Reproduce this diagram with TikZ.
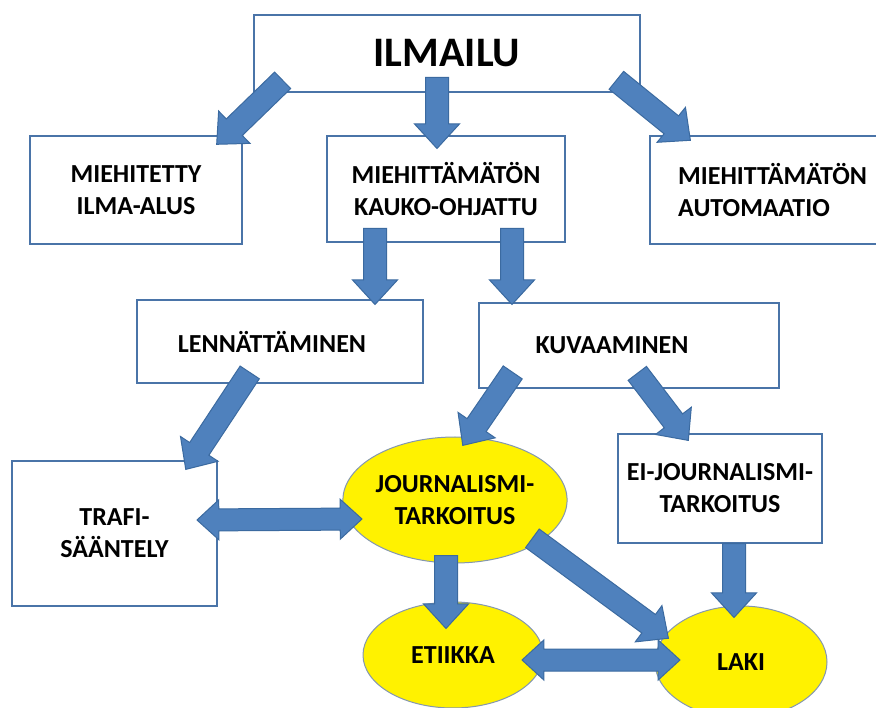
\documentclass[tikz,border=0pt]{standalone}
\usepackage{fontspec}
\setmainfont{Carlito}
\usetikzlibrary{shapes.arrows,shapes.geometric,calc}
\definecolor{arrowfill}{HTML}{4F81BD}
\definecolor{arrowline}{HTML}{3B6AA0}
\definecolor{boxline}{HTML}{4A74A8}
\definecolor{ellline}{HTML}{8497B0}
\newcommand{\lbl}{\bfseries\fontsize{26}{32}\selectfont}
\newcommand{\bigarrow}[3]{%
  \path let \p1=(#1), \p2=(#2), \n1={veclen(\x2-\x1,\y2-\y1)}, \n2={atan2(\y2-\y1,\x2-\x1)}
    in node[barrow, minimum height=\n1, rotate=\n2] (#3) at (\p1) {};}
\newcommand{\twoarrow}[3]{%
  \path let \p1=(#1), \p2=(#2), \n1={veclen(\x2-\x1,\y2-\y1)}, \n2={atan2(\y2-\y1,\x2-\x1)}
    in node[darrow, minimum height=\n1, rotate=\n2] (#3) at ($(\p1)!0.5!(\p2)$) {};}
\tikzset{
  box/.style={draw=boxline, line width=1.3pt, fill=white, inner sep=0pt, align=center, font=\lbl},
  oval/.style={ellipse, draw=ellline, line width=1pt, fill=yellow, inner sep=0pt, align=center, font=\lbl},
  barrow/.style={single arrow, fill=arrowfill, draw=arrowline, line width=1pt,
    inner xsep=0pt, inner ysep=11pt, single arrow head extend=11pt,
    single arrow tip angle=85, anchor=tail},
  darrow/.style={double arrow, fill=arrowfill, draw=arrowline, line width=1pt,
    inner xsep=0pt, inner ysep=10.5pt, double arrow head extend=9pt,
    double arrow tip angle=85, anchor=center}
}
\begin{document}
\begin{tikzpicture}[x=1pt,y=-1pt]
\useasboundingbox[fill=white] (0,0) rectangle (876,708);
% boxes
\node[box, minimum width=386pt, minimum height=77pt] (ilm) at (447,53.5)
  {\fontsize{42}{48}\selectfont ILMAILU};
\node[box, minimum width=212pt, minimum height=108pt] (mie) at (136,190)
  {MIEHITETTY\\ILMA-ALUS};
\node[box, minimum width=238pt, minimum height=106pt] (kau) at (446,189)
  {MIEHITTÄMÄTÖN\\KAUKO-OHJATTU};
\node[box, minimum width=232pt, minimum height=108pt] (aut) at (766,190) {};
\node[font=\lbl, align=left, anchor=west, inner sep=0pt] (auttext) at (678,190)
  {MIEHITTÄMÄTÖN\\AUTOMAATIO};
\node[box, minimum width=286pt, minimum height=83pt] (len) at (280,341.5)
  {LENNÄTTÄMINEN\hspace*{16pt}};
\node[box, minimum width=300pt, minimum height=85pt] (kuv) at (629,345.5)
  {KUVAAMINEN\hspace*{34pt}};
\node[box, minimum width=205pt, minimum height=145pt] (tra) at (114.5,533.5)
  {TRAFI-\\SÄÄNTELY};
\node[box, minimum width=204pt, minimum height=109pt] (ei) at (720,488.5)
  {EI-JOURNALISMI-\\TARKOITUS};
\node[oval, minimum width=220pt, minimum height=126pt] (jou) at (455,500)
  {JOURNALISMI-\\TARKOITUS};
\node[oval, minimum width=180pt, minimum height=106pt] (eti) at (453,655) {ETIIKKA};
\node[oval, minimum width=172pt, minimum height=112pt] (lak) at (741,662) {LAKI};
% arrow end points
\coordinate (a1s) at (283,80);  \coordinate (a1e) at (217,144);
\coordinate (a2s) at (437,77);  \coordinate (a2e) at (437,148);
\coordinate (a3s) at (616,80);  \coordinate (a3e) at (690,140);
\coordinate (a4s) at (375,228); \coordinate (a4e) at (375,304);
\coordinate (a5s) at (512,228); \coordinate (a5e) at (512,304);
\coordinate (a6s) at (250,372); \coordinate (a6e) at (186,469);
\coordinate (a7s) at (513,372); \coordinate (a7e) at (463,445);
\coordinate (a8s) at (637,373); \coordinate (a8e) at (688,440);
\coordinate (a9s) at (197,520); \coordinate (a9e) at (362,519);
\coordinate (a10s) at (446,555); \coordinate (a10e) at (446,628);
\coordinate (a11s) at (532,538); \coordinate (a11e) at (668,638);
\coordinate (a12s) at (734,543); \coordinate (a12e) at (734,617);
\coordinate (a13s) at (522,660); \coordinate (a13e) at (680,660);
% arrows
\bigarrow{a1s}{a1e}{ar1}
\bigarrow{a2s}{a2e}{ar2}
\bigarrow{a3s}{a3e}{ar3}
\bigarrow{a4s}{a4e}{ar4}
\bigarrow{a5s}{a5e}{ar5}
\bigarrow{a6s}{a6e}{ar6}
\bigarrow{a7s}{a7e}{ar7}
\bigarrow{a8s}{a8e}{ar8}
\twoarrow{a9s}{a9e}{ar9}
\bigarrow{a10s}{a10e}{ar10}
\bigarrow{a11s}{a11e}{ar11}
\bigarrow{a12s}{a12e}{ar12}
\twoarrow{a13s}{a13e}{ar13}
\end{tikzpicture}
\end{document}
